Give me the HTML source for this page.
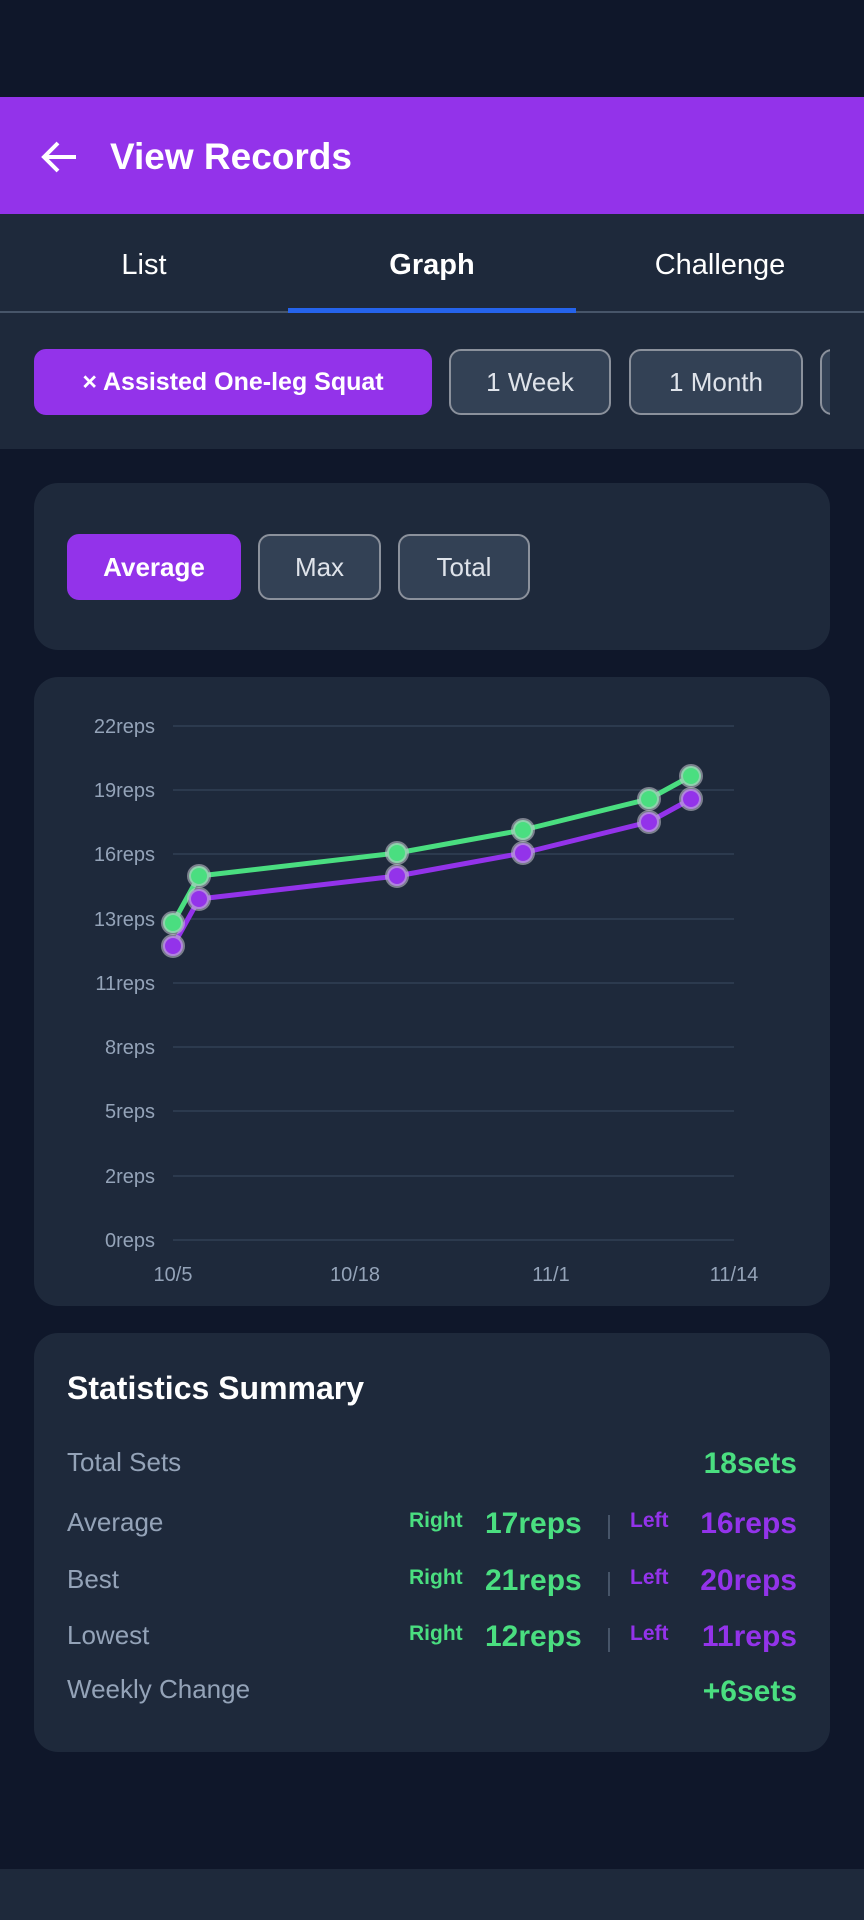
<!DOCTYPE html>
<html><head><meta charset="utf-8"><style>
*{margin:0;padding:0;box-sizing:border-box}
body{width:864px;height:1920px;background:#0f172a;font-family:"Liberation Sans",sans-serif;position:relative;overflow:hidden;color:#fff}
.a{position:absolute}
.hdr{left:0;top:97px;width:864px;height:117px;background:#9333ea}
.tabs{left:0;top:214px;width:864px;height:99px;background:#1e293b;border-bottom:2px solid #475569}
.tab{top:2px;height:99px;line-height:99px;font-size:29px;text-align:center;width:288px}
.chipbar{left:0;top:313px;width:864px;height:136px;background:#1e293b}
.chip{height:66px;border-radius:12px;font-size:26px;line-height:62px;text-align:center;border:2px solid #8b919c;background:#334155;color:#dfe3ea}
.chip.on{background:#9333ea;border-color:#9333ea;color:#fff;font-weight:bold}
.card{left:34px;width:796px;background:#1e293b;border-radius:24px}
.lbl{font-size:26px;color:#94a3b8}
.val{font-size:30px;font-weight:bold}
.g{color:#4ade80}.p{color:#9333ea}
.sm{font-size:21px;font-weight:bold}
</style></head><body>
<div class="a hdr">
<svg class="a" style="left:40px;top:42px" width="40" height="36" viewBox="0 0 40 36"><path d="M36 18H6M18 4L4 18l14 14" stroke="#fff" stroke-width="4" fill="none"/></svg>
<div class="a" style="left:110px;top:39px;font-size:37px;font-weight:bold">View Records</div>
</div>
<div class="a tabs">
<div class="a tab" style="left:0">List</div>
<div class="a tab" style="left:288px;font-weight:bold">Graph</div>
<div class="a tab" style="left:576px">Challenge</div>
<div class="a" style="left:288px;top:94px;width:288px;height:5px;background:#2563eb"></div>
</div>
<div class="a chipbar">
<div class="a chip on" style="left:34px;top:36px;width:398px;font-size:25px">× Assisted One-leg Squat</div>
<div class="a chip" style="left:449px;top:36px;width:162px">1 Week</div>
<div class="a chip" style="left:629px;top:36px;width:174px">1 Month</div>
<div class="a chip" style="left:820px;top:36px;width:60px;border-right:none"></div>
<div class="a" style="left:830px;top:0;width:34px;height:136px;background:#1e293b"></div>
</div>
<div class="a card" style="top:483px;height:167px">
<div class="a chip on" style="left:33px;top:51px;width:174px">Average</div>
<div class="a chip" style="left:224px;top:51px;width:123px">Max</div>
<div class="a chip" style="left:364px;top:51px;width:132px">Total</div>
</div>
<div class="a card" style="top:677px;height:629px"></div>
<svg class="a" style="left:0;top:0" width="864" height="1320">
<g stroke="#2c3a4e" stroke-width="2">
<line x1="173" x2="734" y1="726" y2="726"/><line x1="173" x2="734" y1="790" y2="790"/><line x1="173" x2="734" y1="854" y2="854"/><line x1="173" x2="734" y1="919" y2="919"/><line x1="173" x2="734" y1="983" y2="983"/><line x1="173" x2="734" y1="1047" y2="1047"/><line x1="173" x2="734" y1="1111" y2="1111"/><line x1="173" x2="734" y1="1176" y2="1176"/><line x1="173" x2="734" y1="1240" y2="1240"/>
</g>
<g fill="#94a3b8" font-size="20" text-anchor="end" font-family="Liberation Sans">
<text x="155" y="733">22reps</text><text x="155" y="797">19reps</text><text x="155" y="861">16reps</text><text x="155" y="926">13reps</text><text x="155" y="990">11reps</text><text x="155" y="1054">8reps</text><text x="155" y="1118">5reps</text><text x="155" y="1183">2reps</text><text x="155" y="1247">0reps</text>
</g>
<g fill="#94a3b8" font-size="20" text-anchor="middle" font-family="Liberation Sans">
<text x="173" y="1281">10/5</text><text x="355" y="1281">10/18</text><text x="551" y="1281">11/1</text><text x="734" y="1281">11/14</text>
</g>
<polyline points="173,946 199,899 397,876 523,853 649,822 691,799" fill="none" stroke="#9333ea" stroke-width="5" stroke-linejoin="round"/>
<polyline points="173,923 199,876 397,853 523,830 649,799 691,776" fill="none" stroke="#4ade80" stroke-width="5" stroke-linejoin="round"/>
<g fill="#9333ea" stroke="rgba(200,200,210,0.55)" stroke-width="4">
<circle cx="173" cy="946" r="10"/><circle cx="199" cy="899" r="10"/><circle cx="397" cy="876" r="10"/><circle cx="523" cy="853" r="10"/><circle cx="649" cy="822" r="10"/><circle cx="691" cy="799" r="10"/></g>
<g fill="#4ade80" stroke="rgba(200,200,210,0.55)" stroke-width="4">
<circle cx="173" cy="923" r="10"/><circle cx="199" cy="876" r="10"/><circle cx="397" cy="853" r="10"/><circle cx="523" cy="830" r="10"/><circle cx="649" cy="799" r="10"/><circle cx="691" cy="776" r="10"/></g>
</svg>
<div class="a card" style="top:1333px;height:419px">
<div class="a" style="left:33px;top:37px;font-size:32px;font-weight:bold">Statistics Summary</div>
<div class="a lbl" style="left:33px;top:114px">Total Sets</div>
<div class="a val g" style="right:33px;top:114px">18sets</div>
<div class="a lbl" style="left:33px;top:174px">Average</div>
<div class="a lbl" style="left:33px;top:231px">Best</div>
<div class="a lbl" style="left:33px;top:287px">Lowest</div>
<div class="a lbl" style="left:33px;top:341px">Weekly Change</div>
<div class="a val g" style="right:33px;top:342px">+6sets</div>
</div>
<div class="a" style="left:375px;top:1507px;width:422px;height:50px">
<div class="a sm g" style="left:34px;top:2px">Right</div><div class="a val g" style="left:110px;top:0">17reps</div><div class="a" style="left:233px;top:8px;width:2px;height:24px;background:#475569"></div><div class="a sm p" style="left:255px;top:2px">Left</div><div class="a val p" style="right:0;top:0">16reps</div>
</div>
<div class="a" style="left:375px;top:1564px;width:422px;height:50px">
<div class="a sm g" style="left:34px;top:2px">Right</div><div class="a val g" style="left:110px;top:0">21reps</div><div class="a" style="left:233px;top:8px;width:2px;height:24px;background:#475569"></div><div class="a sm p" style="left:255px;top:2px">Left</div><div class="a val p" style="right:0;top:0">20reps</div>
</div>
<div class="a" style="left:375px;top:1620px;width:422px;height:50px">
<div class="a sm g" style="left:34px;top:2px">Right</div><div class="a val g" style="left:110px;top:0">12reps</div><div class="a" style="left:233px;top:8px;width:2px;height:24px;background:#475569"></div><div class="a sm p" style="left:255px;top:2px">Left</div><div class="a val p" style="right:0;top:0">11reps</div>
</div>
<div class="a" style="left:0;top:1869px;width:864px;height:51px;background:#1e293b"></div>
</body></html>
